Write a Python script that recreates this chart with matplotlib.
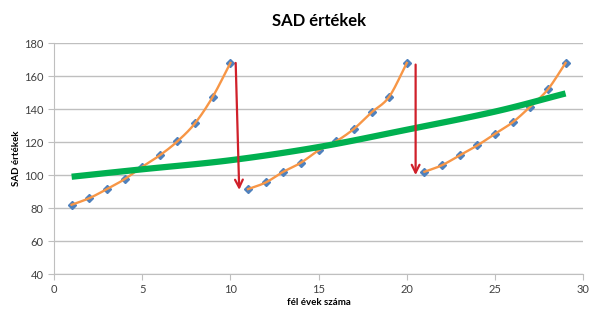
import numpy as np
import matplotlib
matplotlib.use('Agg')
import matplotlib.pyplot as plt

plt.rcParams['font.family'] = ['Lato', 'DejaVu Sans']

# three cycles of half-year SAD values
x1 = [1, 2, 3, 4, 5, 6, 7, 8, 9, 10]
y1 = [82, 86, 91.5, 97.5, 105, 112, 120.5, 131.5, 147.5, 168]
x2 = [11, 12, 13, 14, 15, 16, 17, 18, 19, 20]
y2 = [91.5, 95.5, 102, 107.5, 115, 120.5, 128, 138, 147.5, 168]
x3 = [21, 22, 23, 24, 25, 26, 27, 28, 29]
y3 = [102, 106, 112, 118, 125, 132, 141.5, 152, 168]

# trend (green)
trend_x = [1, 5, 10, 15, 20, 25, 29]
trend_y = [99, 103.5, 109, 117, 127.5, 138.5, 149.5]

# drops (red arrows): start x, start y, end x, end y
drops = [(10.3, 168, 10.5, 91), (20.5, 167, 20.5, 100)]


def smooth(xs, ys, n=20):
    # catmull-rom spline, like excel's smoothed line
    p = np.column_stack([xs, ys]).astype(float)
    p = np.vstack([2 * p[0] - p[1], p, 2 * p[-1] - p[-2]])
    out = []
    t = np.linspace(0, 1, n)[:, None]
    for i in range(1, len(p) - 2):
        p0, p1, p2, p3 = p[i - 1], p[i], p[i + 1], p[i + 2]
        seg = 0.5 * ((2 * p1) + (-p0 + p2) * t + (2 * p0 - 5 * p1 + 4 * p2 - p3) * t ** 2
                     + (-p0 + 3 * p1 - 3 * p2 + p3) * t ** 3)
        out.append(seg)
    out = np.vstack(out)
    return out[:, 0], out[:, 1]


fig = plt.figure(figsize=(6, 3.22), dpi=100)
ax = fig.add_axes([0.09, 0.149, 0.882, 0.717])

for xs, ys in [(x1, y1), (x2, y2), (x3, y3)]:
    ax.plot(xs, ys, 'D', color='#4F81BD', markersize=4.5, zorder=3)
    sx, sy = smooth(xs, ys)
    ax.plot(sx, sy, color='#F79646', lw=1.7, zorder=4)

tx, ty = smooth(trend_x, trend_y)
ax.plot(tx, ty, color='#00B050', lw=4.5, solid_capstyle='butt', zorder=5)

for xa, ya, xb, yb in drops:
    ax.annotate('', xy=(xb, yb), xytext=(xa, ya),
                arrowprops=dict(arrowstyle='->', color='#D0202A', lw=1.6,
                                mutation_scale=14, shrinkA=0, shrinkB=0), zorder=6)

ax.set_xlim(0, 30)
ax.set_ylim(40, 180)
ax.set_xticks(np.arange(0, 31, 5))
ax.set_yticks(np.arange(40, 181, 20))
ax.yaxis.grid(True, color='#BFBFBF', lw=1)
ax.set_axisbelow(True)
for s in ['top', 'right']:
    ax.spines[s].set_visible(False)
ax.spines['left'].set_color('#BFBFBF')
ax.spines['bottom'].set_color('#BFBFBF')
ax.tick_params(axis='x', colors='#BFBFBF', direction='out', length=4, labelcolor='#404040', labelsize=8)
ax.tick_params(axis='y', colors='#BFBFBF', direction='out', length=4, labelcolor='#404040', labelsize=8)

ax.set_title('SAD értékek', fontsize=12, fontweight='bold', pad=12)
ax.set_xlabel('fél évek száma', fontsize=7, fontweight='bold', labelpad=2)
ax.set_ylabel('SAD értékek', fontsize=7, fontweight='bold', labelpad=2)

fig.savefig('out.png', dpi=100)
